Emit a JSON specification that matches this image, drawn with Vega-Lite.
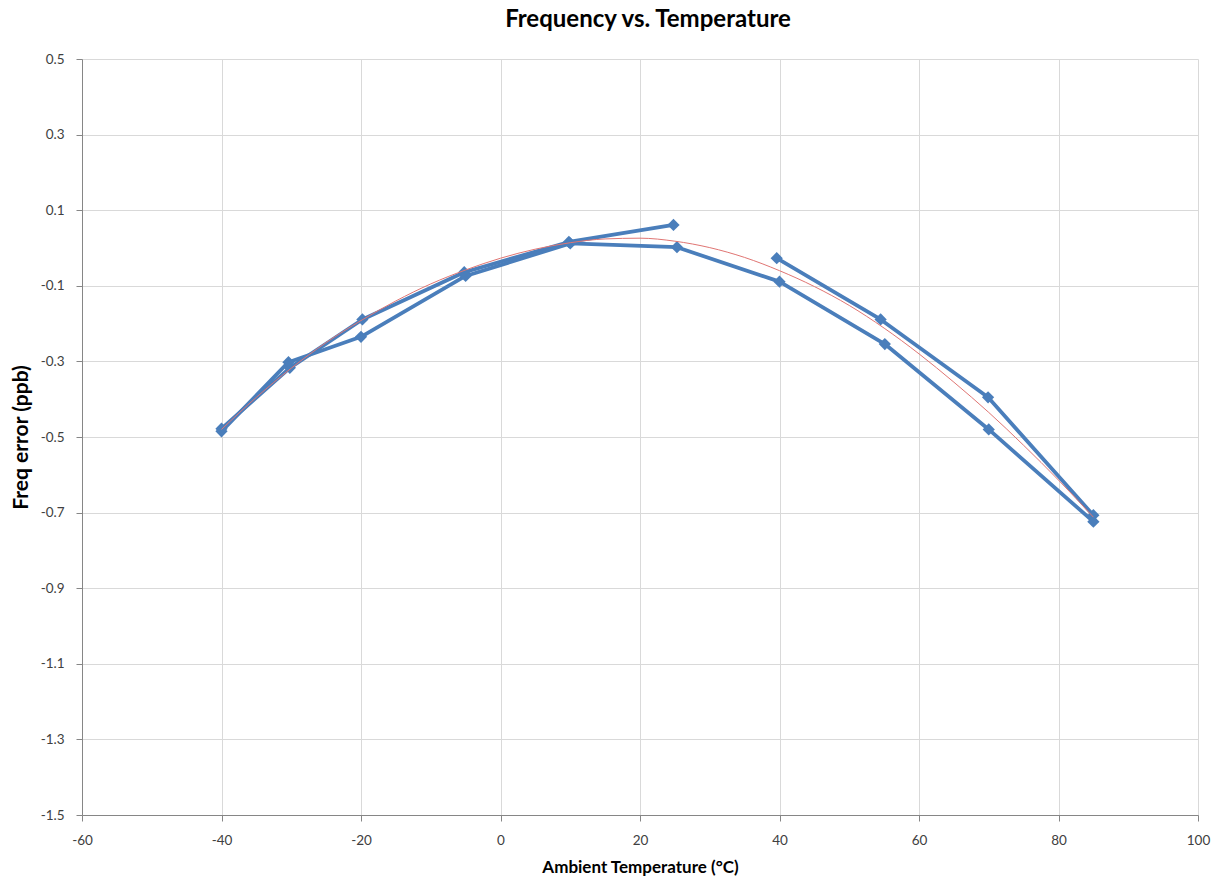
{
  "$schema": "https://vega.github.io/schema/vega-lite/v6.json",
  "width": 1116,
  "height": 756,
  "autosize": {"type": "none"},
  "padding": {"left": 82, "top": 59, "right": 17, "bottom": 63},
  "background": "white",
  "title": {
    "text": "Frequency vs. Temperature",
    "font": "Lato",
    "fontSize": 24,
    "fontWeight": "bold",
    "color": "#000000",
    "anchor": "middle",
    "dx": 8,
    "offset": 20
  },
  "datasets": {
    "meas": [
      {"run": "up1", "seq": 1, "temp": -40.0, "err": -0.478},
      {"run": "up1", "seq": 2, "temp": -30.2, "err": -0.317},
      {"run": "up1", "seq": 3, "temp": -19.8, "err": -0.189},
      {"run": "up1", "seq": 4, "temp": -5.2, "err": -0.064},
      {"run": "up1", "seq": 5, "temp": 9.8, "err": 0.016},
      {"run": "up1", "seq": 6, "temp": 24.8, "err": 0.061},
      {"run": "up2", "seq": 1, "temp": 39.6, "err": -0.027},
      {"run": "up2", "seq": 2, "temp": 54.5, "err": -0.189},
      {"run": "up2", "seq": 3, "temp": 69.9, "err": -0.395},
      {"run": "up2", "seq": 4, "temp": 85.0, "err": -0.707},
      {"run": "down", "seq": 1, "temp": 85.0, "err": -0.724},
      {"run": "down", "seq": 2, "temp": 70.0, "err": -0.48},
      {"run": "down", "seq": 3, "temp": 55.1, "err": -0.254},
      {"run": "down", "seq": 4, "temp": 40.0, "err": -0.089},
      {"run": "down", "seq": 5, "temp": 25.3, "err": 0.002},
      {"run": "down", "seq": 6, "temp": 10.0, "err": 0.012},
      {"run": "down", "seq": 7, "temp": -5.0, "err": -0.074},
      {"run": "down", "seq": 8, "temp": -20.0, "err": -0.235},
      {"run": "down", "seq": 9, "temp": -30.4, "err": -0.302},
      {"run": "down", "seq": 10, "temp": -40.0, "err": -0.485}
    ],
    "trend": [
      {"temp": -40, "err": -0.480},
      {"temp": -35, "err": -0.395},
      {"temp": -30, "err": -0.318},
      {"temp": -25, "err": -0.250},
      {"temp": -20, "err": -0.192},
      {"temp": -15, "err": -0.140},
      {"temp": -10, "err": -0.095},
      {"temp": -5, "err": -0.058},
      {"temp": 0, "err": -0.027},
      {"temp": 5, "err": -0.003},
      {"temp": 10, "err": 0.014},
      {"temp": 15, "err": 0.024},
      {"temp": 20, "err": 0.026},
      {"temp": 25, "err": 0.018},
      {"temp": 30, "err": 0.001},
      {"temp": 35, "err": -0.025},
      {"temp": 40, "err": -0.060},
      {"temp": 45, "err": -0.102},
      {"temp": 50, "err": -0.152},
      {"temp": 55, "err": -0.212},
      {"temp": 60, "err": -0.280},
      {"temp": 65, "err": -0.355},
      {"temp": 70, "err": -0.435},
      {"temp": 75, "err": -0.522},
      {"temp": 80, "err": -0.614},
      {"temp": 85, "err": -0.712}
    ]
  },
  "encoding": {
    "x": {
      "field": "temp",
      "type": "quantitative",
      "scale": {"domain": [-60, 100], "nice": false, "zero": false},
      "axis": {
        "title": "Ambient Temperature (°C)",
        "values": [-60, -40, -20, 0, 20, 40, 60, 80, 100],
        "format": "d",
        "labelExpr": "replace(datum.label, '\u2212', '-')",
        "labelFlush": false,
        "labelPadding": 12,
        "titlePadding": 13,
        "titleFontSize": 17
      }
    },
    "y": {
      "field": "err",
      "type": "quantitative",
      "scale": {"domain": [-1.5, 0.5], "nice": false, "zero": false},
      "axis": {
        "title": "Freq error (ppb)",
        "values": [-1.5, -1.3, -1.1, -0.9, -0.7, -0.5, -0.3, -0.1, 0.1, 0.3, 0.5],
        "format": ".1f",
        "labelExpr": "replace(datum.label, '\u2212', '-')",
        "labelFlush": false,
        "labelPadding": 12,
        "titlePadding": 9,
        "titleFontSize": 21
      }
    }
  },
  "layer": [
    {
      "data": {"name": "meas"},
      "mark": {"type": "line", "color": "#4A7EBB", "strokeWidth": 3.75, "strokeJoin": "round"},
      "encoding": {
        "detail": {"field": "run"},
        "order": {"field": "seq", "type": "quantitative"}
      }
    },
    {
      "data": {"name": "meas"},
      "mark": {"type": "point", "shape": "diamond", "filled": true, "size": 150, "color": "#4A7EBB", "opacity": 1}
    },
    {
      "data": {"name": "trend"},
      "mark": {"type": "line", "color": "#E07573", "strokeWidth": 1, "interpolate": "monotone"},
      "encoding": {}
    }
  ],
  "config": {
    "view": {"stroke": null},
    "axis": {
      "labelFont": "Lato",
      "labelFontSize": 13.5,
      "labelColor": "#404040",
      "titleFont": "Lato",
      "titleFontWeight": "bold",
      "titleColor": "#000000",
      "domainColor": "#868686",
      "domainWidth": 1,
      "tickColor": "#868686",
      "tickSize": 6,
      "gridColor": "#D9D9D9",
      "gridWidth": 1
    }
  }
}
